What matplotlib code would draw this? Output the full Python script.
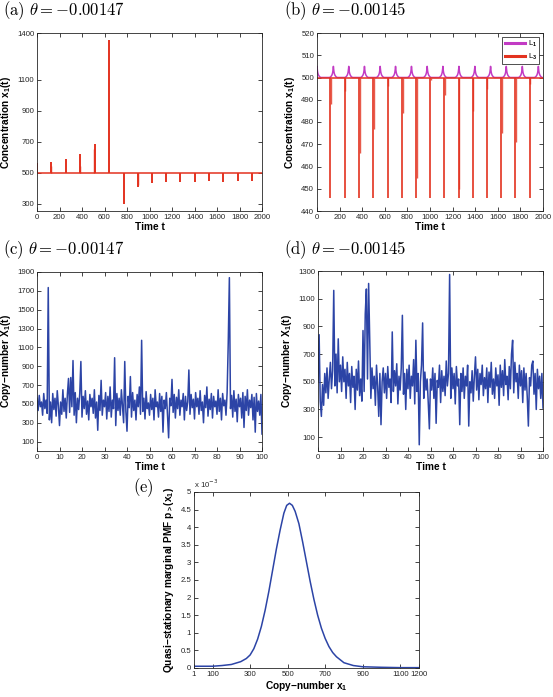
import numpy as np
import matplotlib
matplotlib.use("Agg")
import matplotlib.pyplot as plt
from matplotlib.ticker import FuncFormatter

plt.rcParams['font.family'] = ['Liberation Sans', 'DejaVu Sans']
plt.rcParams['mathtext.fontset'] = 'custom'
plt.rcParams['mathtext.rm'] = 'Liberation Sans:bold'
plt.rcParams['mathtext.it'] = 'Liberation Sans:bold'
plt.rcParams['mathtext.bf'] = 'Liberation Sans:bold'

# ---- panel (a): deterministic, theta = -0.00147
a_base = 500
a_trange = [0, 2000]
a_spike_t = [2, 128, 256, 386, 514, 639, 770, 895, 1022, 1147, 1275, 1403, 1530, 1655, 1783, 1911]
a_spike_v = [560, 571, 588, 620, 685, 1357, 300, 410, 436, 440, 442, 442, 446, 442, 446, 446]
a_sec_t = [124, 382, 511, 898]
a_sec_v = [545, 545, 653, 418]

# ---- panel (b): deterministic, theta = -0.00145
b_base = 500
b_trange = [0, 2000]
b_l3_t = [118, 245, 375, 499, 626, 753, 877, 1004, 1128, 1255, 1380, 1504, 1631, 1755, 1882]
b_l3_min = 446
b_l3_sec = [488, 494, 466, 477, 496, 484, 455, 499, 492, 450, 485, 495, 475, 471, 497]
b_l1_peaks = [0, 145, 281, 420, 559, 695, 836, 975, 1114, 1256, 1397, 1536, 1675, 1817, 1959]
cusp_dt = [-34, -24, -15, -10, -6, -3.5, -1.5, 0, 1.5, 3.5, 6, 10, 15, 24, 34]
cusp_v = [500, 500.3, 500.9, 501.5, 502.3, 503.2, 504.1, 505, 504.1, 503.2, 502.3, 501.5, 500.9, 500.3, 500]

# ---- panel (c)/(d): stochastic copy-number traces, t = 0..100 step 0.5
t_cd = np.arange(0, 100.5, 0.5)
c_vals = [560, 430, 590, 470, 520, 380, 610, 450, 540, 400, 1735, 330, 520, 300, 610, 440, 560, 370, 640, 480,
          270, 520, 390, 650, 420, 560, 350, 600, 770, 410, 780, 470, 960, 380, 620, 300, 560, 440, 610, 950,
          360, 580, 450, 640, 390, 530, 330, 600, 470, 560, 400, 650, 350, 520, 220, 590, 430, 750, 380, 540,
          470, 620, 340, 580, 420, 680, 360, 540, 450, 990, 270, 610, 430, 560, 380, 650, 470, 300, 950, 420,
          210, 580, 460, 790, 360, 620, 430, 540, 330, 600, 470, 680, 390, 1175, 420, 560, 340, 630, 450, 510,
          380, 600, 440, 560, 330, 650, 470, 520, 360, 610, 420, 580, 200, 540, 450, 620, 370, 140, 560, 480,
          760, 410, 600, 350, 570, 450, 650, 380, 540, 470, 610, 330, 580, 430, 520, 860, 390, 600, 460, 550,
          340, 620, 470, 560, 390, 640, 430, 520, 300, 590, 460, 680, 370, 550, 440, 610, 350, 580, 470, 530,
          390, 650, 420, 560, 330, 610, 480, 540, 380, 620, 1150, 1840, 450, 590, 360, 640, 420, 550, 310, 600,
          470, 560, 350, 620, 250, 580, 430, 650, 380, 540, 460, 600, 330, 570, 200, 610, 420, 530, 380, 600,
          180]
d_vals = [500, 840, 360, 250, 480, 330, 560, 420, 600, 380, 520, 640, 450, 580, 1160, 470, 700, 420, 810, 500,
          620, 430, 680, 500, 590, 380, 640, 470, 560, 350, 610, 460, 540, 300, 590, 440, 650, 400, 520, 360,
          870, 430, 990, 1170, 520, 1210, 780, 380, 600, 450, 540, 330, 620, 470, 250, 560, 190, 500, 600, 420,
          560, 380, 610, 460, 520, 350, 860, 430, 580, 470, 630, 340, 540, 440, 600, 980, 410, 560, 300, 590,
          450, 620, 380, 540, 470, 660, 340, 800, 430, 560, 45, 500, 620, 925, 380, 570, 440, 520, 350, 160,
          520, 440, 600, 380, 560, 200, 510, 460, 620, 350, 580, 430, 540, 400, 650, 470, 560, 1275, 380, 600,
          450, 560, 340, 610, 470, 520, 190, 560, 430, 600, 380, 540, 470, 620, 180, 500, 420, 580, 360, 540,
          680, 440, 590, 370, 560, 480, 620, 400, 530, 450, 600, 350, 570, 460, 640, 410, 520, 380, 600, 470,
          550, 330, 620, 460, 580, 400, 660, 480, 540, 370, 610, 450, 700, 800, 420, 640, 500, 560, 380, 620,
          470, 580, 350, 600, 440, 560, 390, 180, 530, 470, 620, 650, 410, 560, 300, 590, 450, 540, 380, 560,
          310]

# ---- panel (e): quasi-stationary marginal PMF
e_x = [1, 50, 100, 150, 200, 250, 280, 300, 320, 340, 360, 380, 400, 420, 440, 460, 480, 495, 510, 525,
       540, 560, 580, 600, 620, 640, 660, 680, 700, 720, 740, 760, 800, 850, 900, 1000, 1100, 1200]
e_p = [0.05, 0.05, 0.05, 0.07, 0.10, 0.18, 0.27, 0.37, 0.55, 0.82, 1.18, 1.64, 2.18, 2.78, 3.38, 3.92, 4.40, 4.62, 4.68, 4.62,
       4.45, 4.10, 3.58, 3.02, 2.46, 1.95, 1.50, 1.13, 0.84, 0.61, 0.44, 0.32, 0.15, 0.07, 0.035, 0.02, 0.01, 0.01]
e_p = np.array(e_p) * 1e-3

red = '#E3321F'
mag = '#C23BC4'
blue = '#2C44A6'
axcol = '#262626'

W, H = 553, 697
fig = plt.figure(figsize=(W / 100, H / 100), dpi=100)


def px_axes(l, t, r, b):
    ax = fig.add_axes([l / W, 1 - b / H, (r - l) / W, (b - t) / H])
    ax.tick_params(direction='in', top=True, right=True, length=3, width=0.6,
                   labelsize=5.6, colors=axcol, pad=2)
    for s in ax.spines.values():
        s.set_linewidth(0.6)
        s.set_color(axcol)
    return ax


def title(x, y, s):
    fig.text(x / W, 1 - y / H, s, fontsize=12, math_fontfamily='cm', va='center', ha='left')


lab = dict(fontsize=7.3, fontweight='bold')

# (a)
ax = px_axes(37, 33, 262, 211)
ax.plot(a_trange, [a_base, a_base], color=red, lw=1.1)
ax.vlines(a_spike_t, a_base, a_spike_v, color=red, lw=1.4)
ax.vlines(a_sec_t, a_base, a_sec_v, color=red, lw=1.0)
ax.set_xlim(0, 2000)
ax.set_ylim(253, 1400)
ax.set_xticks(range(0, 2001, 200))
ax.set_yticks([300, 500, 700, 900, 1100, 1400])
ax.set_xlabel('Time t', labelpad=1, **lab)
ax.set_ylabel('Concentration x$_1$(t)', labelpad=3, **lab)
title(3, 11, r'$\mathrm{(a)}\ \theta = -0.00147$')

# (b)
ax = px_axes(317, 33, 543, 211)
l1_t = np.concatenate([np.array(cusp_dt) + p for p in b_l1_peaks])
l1_v = np.tile(cusp_v, len(b_l1_peaks))
ax.plot(l1_t, l1_v, color=mag, lw=1.1, label='L$_1$')
ax.plot(b_trange, [b_base, b_base], color=red, lw=1.1, label='L$_3$')
ax.vlines(b_l3_t, b_l3_min, b_base, color=red, lw=1.2)
ax.vlines(np.array(b_l3_t) + 4, b_l3_sec, b_base, color=red, lw=1.0, alpha=0.8)
ax.set_xlim(0, 2000)
ax.set_ylim(440, 520)
ax.set_xticks(range(0, 2001, 200))
ax.set_yticks(range(440, 521, 10))
ax.set_xlabel('Time t', labelpad=1, **lab)
ax.set_ylabel('Concentration x$_1$(t)', labelpad=3, **lab)
leg = ax.legend(loc='upper right', fontsize=5.5, frameon=True, fancybox=False,
                borderpad=0.3, handlelength=2.6, handletextpad=0.4, labelspacing=0.3,
                borderaxespad=0.5)
leg.get_frame().set_edgecolor('black')
leg.get_frame().set_linewidth(0.6)
for h in leg.get_lines():
    h.set_linewidth(2.2)
title(284, 11, r'$\mathrm{(b)}\ \theta = -0.00145$')

# (c)
ax = px_axes(37, 272, 262, 451)
ax.plot(t_cd, c_vals, color=blue, lw=1.1)
ax.set_xlim(0, 100)
ax.set_ylim(0, 1900)
ax.set_xticks(range(0, 101, 10))
ax.set_yticks(range(100, 1901, 200))
ax.set_xlabel('Time t', labelpad=1, **lab)
ax.set_ylabel('Copy\u2212number X$_1$(t)', labelpad=3, **lab)
title(3, 250, r'$\mathrm{(c)}\ \theta = -0.00147$')

# (d)
ax = px_axes(318, 271, 543, 451)
ax.plot(t_cd, d_vals, color=blue, lw=1.1)
ax.set_xlim(0, 100)
ax.set_ylim(0, 1300)
ax.set_xticks(range(0, 101, 10))
ax.set_yticks(range(100, 1301, 200))
ax.set_xlabel('Time t', labelpad=1, **lab)
ax.set_ylabel('Copy\u2212number X$_1$(t)', labelpad=3, **lab)
title(284, 250, r'$\mathrm{(d)}\ \theta = -0.00145$')

# (e)
ax = px_axes(194, 492, 419, 668)
ax.plot(e_x, e_p, color=blue, lw=1.1)
ax.set_xlim(1, 1200)
ax.set_ylim(0, 5e-3)
ax.set_xticks([1, 100, 300, 500, 700, 900, 1100, 1200])
ax.set_yticks(np.arange(0, 5.01e-3, 0.5e-3))
ax.yaxis.set_major_formatter(FuncFormatter(lambda v, p: '%g' % round(v * 1e3, 2)))
ax.text(0, 1.01, r'x 10$^{-3}$', transform=ax.transAxes, fontsize=5.6, color=axcol,
        math_fontfamily='dejavusans', va='bottom', ha='left')
ax.set_xlabel('Copy\u2212number x$_1$', labelpad=1, **lab)
ax.set_ylabel('Quasi\u2212stationary marginal PMF p$_>$(x$_1$)', labelpad=3, **lab)
title(133, 488, r'$\mathrm{(e)}$')

fig.savefig('out.png', dpi=100)
